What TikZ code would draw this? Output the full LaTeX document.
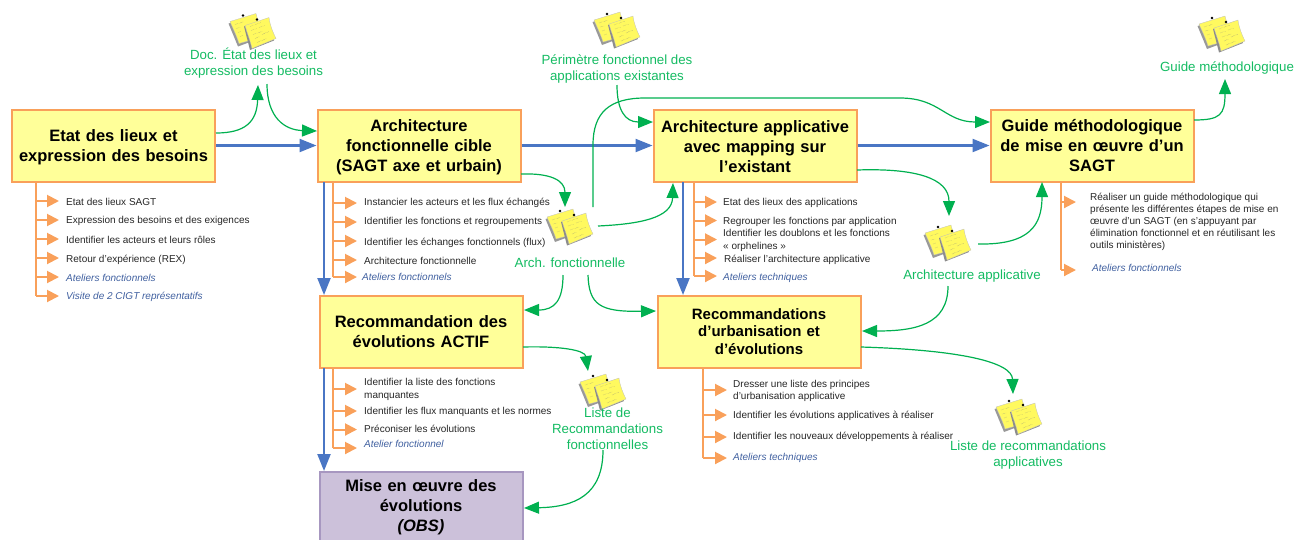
\documentclass[tikz,border=0pt]{standalone}
\usepackage{fontspec}
\setmainfont{Liberation Sans}
\usetikzlibrary{arrows.meta,calc}
\definecolor{boxfill}{HTML}{FFFF99}
\definecolor{boxline}{HTML}{F9A05A}
\definecolor{purfill}{HTML}{CCC1DA}
\definecolor{purline}{HTML}{A797C0}
\definecolor{flowblue}{HTML}{4A76C4}
\definecolor{docgreen}{HTML}{00B050}
\definecolor{labgreen}{HTML}{14BB62}
\definecolor{italblue}{HTML}{3F5F9F}
\definecolor{notey}{HTML}{FFF95F}
\tikzset{
  x=1pt,y=-1pt,
  phase/.style={draw=boxline,fill=boxfill,line width=2pt,minimum width=203pt,minimum height=72pt,
    inner sep=0pt,align=center,text width=200pt,font=\fontsize{16.5}{20}\selectfont\bfseries},
  phasep/.style={phase,draw=purline,fill=purfill},
  blueflow/.style={draw=flowblue,line width=2.2pt,-{Triangle[length=17pt,width=13pt]}},
  greenflow/.style={draw=docgreen,line width=1.2pt,-{Triangle[length=15pt,width=12pt]}},
  orangespine/.style={draw=boxline,line width=2pt},
  orangearrow/.style={draw=boxline,line width=2pt,-{Triangle[length=12pt,width=12pt]}},
  taskitem/.style={anchor=base west,inner sep=0pt,font=\fontsize{10}{12}\selectfont,text=black!85},
  taskital/.style={taskitem,font=\fontsize{10}{12}\selectfont\itshape,text=italblue},
  doclabel/.style={align=center,inner sep=0pt,text=labgreen,font=\fontsize{13.3}{16}\selectfont},
  noteicon/.pic={
    \fill[black!40] (-24.5,-8) -- (1,-16) -- (9,6) -- (-15,15) -- cycle;
    \fill[notey,draw=black!25,line width=.3pt] (-23,-10) -- (3,-18) .. controls (5,-10) and (8,-2) .. (11,5) -- (-14,12) .. controls (-16,5) and (-20,-3) .. (-23,-10) -- cycle;
    \fill[black!45] (-9,-5) -- (14,-13) -- (21,9) -- (-3,18.5) -- cycle;
    \fill[notey,draw=black!25,line width=.3pt] (-8,-6) -- (16,-14) .. controls (17,-6) and (20,1) .. (23,7) -- (-1,17) .. controls (-3,8) and (-6,1) .. (-8,-6) -- cycle;
    \foreach \a/\b/\c/\d in {-18/-7/-10/-9.5,-17/-3/-13/-4,-15/1/-12/0,-13/5/-10/4,-3/-5/8/-9,-2/-1/4/-3,6/-4/12/-6,0/3/9/0,2/7/7/5,9/3/16/0,4/11/14/7}
      \draw[black!50,line width=.35pt,densely dotted] (\a,\b) -- (\c,\d);
    \fill[black] (-10,-16) circle (1.4);
    \fill[black] (4,-12) circle (1.4);
  }
}
% \titem{name}{spine coordinate}{tip x}{arrow y}{text x}{text baseline y}{style}{text}
\newcommand{\titem}[8]{%
  \node[#7] (#1) at (#5,#6) {#8};
  \coordinate (#1tip) at (#3,#4);
  \draw[orangearrow] (#2 |- #1tip) -- (#1tip);
}
\newcommand{\lowerby}{\rule{0pt}{15pt}}
\begin{document}
\begin{tikzpicture}
\useasboundingbox (0,0) rectangle (1303,539);

% phases
\node[phase] (A) at (113.5,145.5) {\lowerby Etat des lieux et\\expression des besoins};
\node[phase] (B) at (419,145.5) {\lowerby Architecture\\fonctionnelle cible\\(SAGT axe et urbain)};
\node[phase] (C) at (755,145.5) {\lowerby Architecture applicative\\avec mapping sur\\l’existant};
\node[phase] (D) at (1092,145.5) {Guide méthodologique\\de mise en œuvre d’un\\SAGT};
\node[phase] (E) at (421,332) {Recommandation des\\évolutions ACTIF};
\node[phase,font=\fontsize{15}{17.5}\selectfont\bfseries] (F) at (759,331.5) {Recommandations\\d’urbanisation et\\d’évolutions};
\node[phasep] (G) at (421,507) [minimum height=70pt] {Mise en œuvre des\\évolutions\\\textit{(OBS)}};

% document labels and icons
\pic (n1) at (253,31.5) {noteicon};
\node[doclabel] (L1) at (253.5,63.5) {Doc. État des lieux et\\expression des besoins};
\pic (n2) at (617,30) {noteicon};
\node[doclabel] (L2) at (617,68.5) {Périmètre fonctionnel des\\applications existantes};
\pic (n3) at (570,227) {noteicon};
\node[doclabel] (L3) at (570,263) {Arch. fonctionnelle};
\pic (n4) at (948,243) {noteicon};
\node[doclabel] (L4) at (972,276) {Architecture applicative};
\pic (n5) at (1222,34) {noteicon};
\node[doclabel] (L5) at (1227,67.5) {Guide méthodologique};
\pic (n6) at (603,392) {noteicon};
\node[doclabel] (L6) at (607.5,429) {Liste de\\Recommandations\\fonctionnelles};
\pic (n7) at (1019,417) {noteicon};
\node[doclabel] (L7) at (1028,455.5) {Liste de recommandations\\applicatives};

% blue flows
\draw[blueflow] (A.east) -- (B.west);
\draw[blueflow] (B.east) -- (C.west);
\draw[blueflow] (C.east) -- (D.west);
\coordinate (bv1a) at (324,182); \coordinate (bv1b) at (324,295);
\coordinate (bv2a) at (683,182); \coordinate (bv2b) at (683,295);
\coordinate (bv3a) at (324,368); \coordinate (bv3b) at (324,471);
\draw[blueflow] (bv1a) -- (bv1b);
\draw[blueflow] (bv2a) -- (bv2b);
\draw[blueflow] (bv3a) -- (bv3b);

% task lists
\coordinate (sA) at (36,182); \coordinate (sAe) at (36,296);
\draw[orangespine] (sA) -- (sAe);
\titem{a1}{sA}{59}{201}{66}{205}{taskitem}{Etat des lieux SAGT}
\titem{a2}{sA}{59}{220}{66}{223}{taskitem}{Expression des besoins et des exigences}
\titem{a3}{sA}{59}{239}{66}{243}{taskitem}{Identifier les acteurs et leurs rôles}
\titem{a4}{sA}{59}{258}{66}{262}{taskitem}{Retour d’expérience (REX)}
\titem{a5}{sA}{59}{277}{66}{281}{taskital}{Ateliers fonctionnels}
\titem{a6}{sA}{59}{296}{66}{299}{taskital}{Visite de 2 CIGT représentatifs}

\coordinate (sB) at (333,182); \coordinate (sBe) at (333,277);
\draw[orangespine] (sB) -- (sBe);
\titem{b1}{sB}{357}{203}{364}{205.5}{taskitem}{Instancier les acteurs et les flux échangés}
\titem{b2}{sB}{357}{222}{364}{224}{taskitem}{Identifier les fonctions et regroupements}
\titem{b3}{sB}{357}{241}{364}{245}{taskitem}{Identifier les échanges fonctionnels (flux)}
\titem{b4}{sB}{357}{260}{364}{264}{taskitem}{Architecture fonctionnelle}
\titem{b5}{sB}{357}{277}{362}{280}{taskital}{Ateliers fonctionnels}

\coordinate (sC) at (694,182); \coordinate (sCe) at (694,276);
\draw[orangespine] (sC) -- (sCe);
\titem{c1}{sC}{717}{202}{723}{205.5}{taskitem}{Etat des lieux des applications}
\titem{c2}{sC}{717}{220.5}{723}{224}{taskitem}{Regrouper les fonctions par application}
\titem{c3}{sC}{717}{239.5}{723}{236.5}{taskitem}{Identifier les doublons et les fonctions}
\node[taskitem] (c3b) at (723,249) {« orphelines »};
\titem{c4}{sC}{717}{258}{724}{262}{taskitem}{Réaliser l’architecture applicative}
\titem{c5}{sC}{717}{276}{723}{280}{taskital}{Ateliers techniques}

\coordinate (sD) at (1061,182); \coordinate (sDe) at (1061,270);
\draw[orangespine] (sD) -- (sDe);
\titem{d1}{sD}{1076}{202}{1090}{200}{taskitem}{Réaliser un guide méthodologique qui}
\node[taskitem] (d1b) at (1090,212) {présente les différentes étapes de mise en};
\node[taskitem] (d1c) at (1090,224) {œuvre d’un SAGT (en s’appuyant par};
\node[taskitem] (d1d) at (1090,236) {élimination fonctionnel et en réutilisant les};
\node[taskitem] (d1e) at (1090,248) {outils ministères)};
\titem{d2}{sD}{1076}{270}{1092}{271}{taskital}{Ateliers fonctionnels}

\coordinate (sE) at (333,368); \coordinate (sEe) at (333,448);
\draw[orangespine] (sE) -- (sEe);
\titem{e1}{sE}{357}{389}{364}{385.5}{taskitem}{Identifier la liste des fonctions}
\node[taskitem] (e1b) at (364,398) {manquantes};
\titem{e2}{sE}{357}{411}{364}{414}{taskitem}{Identifier les flux manquants et les normes}
\titem{e3}{sE}{357}{429.5}{364}{432}{taskitem}{Préconiser les évolutions}
\titem{e4}{sE}{357}{448}{364}{447}{taskital}{Atelier fonctionnel}

\coordinate (sF) at (703,367); \coordinate (sFe) at (703,458);
\draw[orangespine] (sF) -- (sFe);
\titem{f1}{sF}{727}{390}{733}{387}{taskitem}{Dresser une liste des principes}
\node[taskitem] (f1b) at (733,399) {d’urbanisation applicative};
\titem{f2}{sF}{727}{415}{733}{418}{taskitem}{Identifier les évolutions applicatives à réaliser}
\titem{f3}{sF}{727}{437}{733}{439}{taskitem}{Identifier les nouveaux développements à réaliser}
\titem{f4}{sF}{727}{458}{733}{460}{taskital}{Ateliers techniques}

% green document flows: named end points
\coordinate (g1a) at (216,133); \coordinate (g1b) at (258,85);
\coordinate (g2a) at (267,84);  \coordinate (g2b) at (317,131);
\coordinate (g3a) at (521,174); \coordinate (g3b) at (565,207);
\coordinate (g4a) at (593,207); \coordinate (g4b) at (990,122);
\coordinate (g5a) at (598,226); \coordinate (g5b) at (673,183);
\coordinate (g6a) at (563,275); \coordinate (g6b) at (524,310);
\coordinate (g7a) at (588,275); \coordinate (g7b) at (656,311);
\coordinate (g8a) at (617,85);  \coordinate (g8b) at (653,122);
\coordinate (g9a) at (857,170); \coordinate (g9b) at (949,216);
\coordinate (g10a) at (978,244); \coordinate (g10b) at (1042,182);
\coordinate (g11a) at (948,286); \coordinate (g11b) at (862,331);
\coordinate (g12a) at (1194,120); \coordinate (g12b) at (1225,79);
\coordinate (g13a) at (523,347); \coordinate (g13b) at (588,371);
\coordinate (g14a) at (603,450); \coordinate (g14b) at (524,508);
\coordinate (g15a) at (861,347); \coordinate (g15b) at (1013,394);

\draw[greenflow] (g1a) .. controls (245,133) and (257,122) .. (g1b);
\draw[greenflow] (g2a) .. controls (267,118) and (285,130) .. (g2b);
\draw[greenflow] (g3a) .. controls (550,173) and (565,180) .. (g3b);
\draw[greenflow] (g4a) -- (593,145) .. controls (593,112) and (610,98) .. (645,98)
   -- (900,98) .. controls (940,98) and (945,122) .. (g4b);
\draw[greenflow] (g5a) .. controls (640,224) and (672,218) .. (g5b);
\draw[greenflow] (g6a) .. controls (563,300) and (555,310) .. (g6b);
\draw[greenflow] (g7a) .. controls (589,305) and (600,312) .. (g7b);
\draw[greenflow] (g8a) .. controls (617,110) and (625,122) .. (g8b);
\draw[greenflow] (g9a) .. controls (915,168) and (949,178) .. (g9b);
\draw[greenflow] (g10a) .. controls (1030,245) and (1042,225) .. (g10b);
\draw[greenflow] (g11a) .. controls (948,325) and (915,331) .. (g11b);
\draw[greenflow] (g12a) .. controls (1220,120) and (1225,115) .. (g12b);
\draw[greenflow] (g13a) .. controls (560,346) and (585,350) .. (g13b);
\draw[greenflow] (g14a) .. controls (603,495) and (575,507) .. (g14b);
\draw[greenflow] (g15a) .. controls (960,350) and (1012,362) .. (g15b);
\end{tikzpicture}
\end{document}
